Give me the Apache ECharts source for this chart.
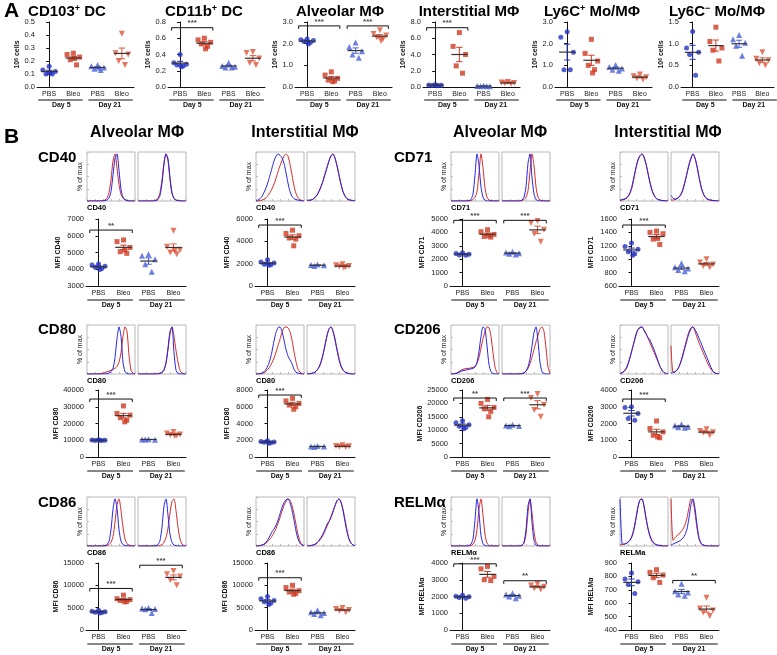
<!DOCTYPE html>
<html><head><meta charset="utf-8">
<script src="https://cdn.jsdelivr.net/npm/echarts@6/dist/echarts.min.js"></script>
<style>html,body{margin:0;padding:0;background:#fff}#c{width:777px;height:655px}</style>
</head><body><div id="c"></div>
<script>
// ---------- categories / labels ----------
const GROUPS = ['PBS', 'Bleo', 'PBS', 'Bleo'];
const DAYS = ['Day 5', 'Day 21'];

// ---------- Panel A (10^6 cells) : [PBS d5, Bleo d5, PBS d21, Bleo d21] ----------
const A_TITLES = ['{b|CD103}{s|+}{b| DC}', '{b|CD11b}{s|+}{b| DC}', '{b|Alveolar MΦ}', '{b|Interstitial MΦ}', '{b|Ly6C}{s|+}{b| Mo/MΦ}', '{b|Ly6C}{s|−}{b| Mo/MΦ}'];
const A_YMAX = [0.5, 0.8, 3.0, 8.0, 3.0, 1.5];
const A_YSTEP = [0.1, 0.2, 1.0, 2.0, 1.0, 0.5];
const CD103_DC = [[0.16,0.13,0.12,0.10,0.10,0.11],[0.26,0.25,0.23,0.21,0.17,0.22],[0.17,0.16,0.15,0.14,0.13,0.15],[0.41,0.26,0.25,0.20,0.17]];
const CD11B_DC = [[0.40,0.30,0.28,0.27,0.26,0.25],[0.60,0.58,0.55,0.53,0.50,0.47],[0.30,0.26,0.25,0.24,0.24],[0.43,0.42,0.35,0.30,0.27]];
const ALV_A = [[2.22,2.18,2.15,2.10,2.05,1.98],[0.70,0.55,0.40,0.32,0.28,0.25],[2.05,1.85,1.65,1.50,1.35],[2.62,2.45,2.38,2.30,2.22,2.12]];
const INT_A = [[0.30,0.25,0.22,0.20,0.18,0.15],[6.7,5.0,4.0,2.6,1.7],[0.15,0.12,0.10,0.08,0.10],[0.62,0.55,0.50,0.45,0.40]];
const LY6CP = [[2.55,2.30,1.60,0.80,0.80],[2.20,1.55,1.20,1.00,0.80,0.65],[1.02,0.92,0.85,0.80,0.75],[0.58,0.50,0.45,0.40,0.35]];
const LY6CM = [[1.28,0.90,0.80,0.75,0.27],[1.38,1.05,0.90,0.85,0.60],[1.20,1.10,1.02,0.95,0.72],[0.80,0.65,0.62,0.55,0.50]];
const A_DATA = [CD103_DC, CD11B_DC, ALV_A, INT_A, LY6CP, LY6CM];
// significance brackets: [group a, group b, y, stars]
const BR_CD103 = [];
const BR_CD11B = [[0,1,0.73,'***']];
const BR_ALV_A = [[0,1,2.82,'***'],[2,3,2.82,'***']];
const BR_INT_A = [[0,1,7.3,'***']];
const BR_LY6CP = [];
const BR_LY6CM = [];
const A_BR = [BR_CD103, BR_CD11B, BR_ALV_A, BR_INT_A, BR_LY6CP, BR_LY6CM];

// ---------- Panel B MFI values ----------
const ALV_CD40 = [[4320,4250,4180,4120,4050,3980],[5750,5650,5300,5050,4950,5150],[4900,4800,4600,4300,3850],[6300,5350,5150,5000,4900,5100]];
const ALV_CD80 = [[10300,10100,10000,9900,9800,10000],[30500,26000,25000,23500,22000,21000],[10600,10500,10300,10400],[15000,14000,13500,13200,12800,12500]];
const ALV_CD86 = [[4400,4200,4100,4000,3900,3800],[7800,7000,6800,6600,6400,6300],[4900,4800,4700,4650,3800],[13200,12500,12000,11200,10000]];
const INT_CD40 = [[2350,2150,2050,1950,1900,1850],[5000,4700,4500,4300,4200,3600],[1920,1880,1850,1800],[1950,1850,1800,1750,1700,1650]];
const INT_CD80 = [[1950,1850,1800,1750,1700,1650],[7000,6700,6400,6200,6000,5700],[1320,1260,1240,1200],[1400,1300,1270,1230,1180]];
const INT_CD86 = [[7500,7000,6600,6300,6000,5700],[10000,9500,8800,8500,8200,8000],[4400,4000,3800,3600,3300],[4900,4700,4500,4300,4000]];
const ALV_CD71 = [[2480,2420,2370,2320,2300],[4200,4050,3850,3700,3650,3750],[2550,2500,2450,2400,2350],[4850,4700,4200,3900,3300]];
const ALV_CD206 = [[13500,12800,12000,11500,11000,10500],[21500,20000,18500,18000,17000,15000],[12000,11800,11600,11500],[23500,22000,19500,17500,15000]];
const ALV_RELMA = [[2080,2020,1980,1940,1900],[3800,3650,3200,3000,2950],[2200,2120,2050,2000,1900],[2750,2650,2580,2500,2420]];
const INT_CD71 = [[1240,1190,1150,1110,1080,1060],[1420,1400,1380,1300,1220,1310],[940,880,860,840,820],[1000,950,920,900,880]];
const INT_CD206 = [[3000,2950,2600,2300,2200],[2150,1700,1500,1300,1150,1200],[1950,1880,1800,1780,1750],[1650,1550,1480,1450,1300]];
const INT_RELMA = [[825,780,760,740,672],[850,830,810,790,755],[745,690,680,665,655],[640,560,545,530,505]];

const BR_ALV_CD40 = [[0,1,6340,'**']];
const BR_ALV_CD80 = [[0,1,34600,'***']];
const BR_ALV_CD86 = [[0,1,9300,'***'],[2,3,14500,'***']];
const BR_INT_CD40 = [[0,1,5460,'***']];
const BR_INT_CD80 = [[0,1,7400,'***']];
const BR_INT_CD86 = [[0,1,11700,'***']];
const BR_ALV_CD71 = [[0,1,4900,'***'],[2,3,4900,'***']];
const BR_ALV_CD206 = [[0,1,22000,'**'],[2,3,22000,'***']];
const BR_ALV_RELMA = [[0,1,3950,'***'],[2,3,2940,'**']];
const BR_INT_CD71 = [[0,1,1510,'***']];
const BR_INT_CD206 = [[0,1,3460,'***']];
const BR_INT_RELMA = [[2,3,770,'**']];

// y-axis ranges: [min, max, step]
const Y_ALV_CD40 = [3000,7000,1000], Y_ALV_CD80 = [0,40000,10000], Y_ALV_CD86 = [0,15000,5000];
const Y_INT_CD40 = [0,6000,2000], Y_INT_CD80 = [0,8000,2000], Y_INT_CD86 = [0,15000,5000];
const Y_ALV_CD71 = [0,5000,1000], Y_ALV_CD206 = [0,25000,5000], Y_ALV_RELMA = [0,4000,1000];
const Y_INT_CD71 = [600,1600,200], Y_INT_CD206 = [0,4000,1000], Y_INT_RELMA = [400,900,100];

// ---------- Histograms (% of max): [Day5 Bleo(red), Day5 PBS(blue), Day21 Bleo(red), Day21 PBS(blue)] ----------
const H_ALV_CD40 = [
 [0,0,0,0,0,0,0,0,1,2,6,18,45,85,100,70,35,14,6,3,1,0,0,0,0],
 [0,0,0,0,0,0,0,0,0,1,2,6,20,55,90,100,65,25,8,3,1,0,0,0,0],
 [0,0,0,0,0,0,0,0,1,2,6,18,45,82,100,85,45,15,5,2,1,0,0,0,0],
 [0,0,0,0,0,0,0,0,0,1,3,12,38,78,100,90,50,18,6,2,1,0,0,0,0]];
const H_INT_CD40 = [
 [0,0,1,2,4,7,12,18,26,36,48,62,75,86,95,100,95,78,55,32,16,7,3,1,0],
 [1,2,5,10,18,28,40,55,70,85,95,100,97,92,80,60,38,20,10,5,3,2,1,0,0],
 [1,1,2,4,7,12,20,30,43,58,72,86,96,100,92,76,56,36,20,10,5,2,1,1,0],
 [1,2,2,4,8,13,21,31,42,56,70,85,95,100,90,74,54,35,20,11,5,3,2,1,0]];
const H_ALV_CD71 = [
 [0,0,0,0,0,0,0,0,0,0,1,3,8,20,60,100,70,28,8,2,1,0,0,0,0],
 [0,0,0,0,0,0,0,0,0,1,3,15,55,100,75,30,8,2,0,0,0,0,0,0,0],
 [0,0,0,0,0,0,0,0,0,0,1,3,8,22,62,100,75,30,8,2,1,0,0,0,0],
 [0,0,0,0,0,0,0,0,0,0,2,8,30,80,100,50,15,3,1,0,0,0,0,0,0]];
const H_INT_CD71 = [
 [1,2,3,5,9,16,28,48,70,86,96,100,94,80,60,40,24,13,6,3,2,1,0,0,0],
 [2,3,4,6,10,18,32,52,72,88,96,100,92,78,58,38,22,12,6,3,2,1,1,0,0],
 [2,2,3,5,9,15,26,42,60,78,92,100,90,72,50,30,16,8,4,2,1,1,0,0,0],
 [12,6,4,5,8,14,24,40,58,76,90,100,92,75,52,32,18,9,5,3,2,1,1,0,0]];
const H_ALV_CD80 = [
 [0,0,0,0,0,0,0,1,2,3,5,6,8,10,12,16,25,45,80,100,90,40,8,2,0],
 [0,0,0,0,0,0,0,0,0,0,1,2,5,12,35,75,100,80,25,5,1,0,0,0,0],
 [0,0,0,0,0,0,0,0,0,0,1,2,4,10,25,52,85,100,80,50,25,8,2,0,0],
 [0,0,0,0,0,0,0,0,0,0,0,1,3,8,22,55,90,100,45,8,1,0,0,0,0]];
const H_INT_CD80 = [
 [0,0,0,1,3,6,10,16,24,34,46,60,74,88,98,100,98,90,72,48,26,10,4,1,0],
 [0,0,1,2,5,10,18,30,48,70,88,98,100,90,72,52,38,30,22,10,4,2,1,0,0],
 [0,0,1,2,4,8,14,24,40,60,80,95,100,92,75,54,34,18,9,4,2,1,0,0,0],
 [0,0,1,2,4,8,15,26,42,62,82,96,100,90,72,50,30,16,8,4,2,1,0,0,0]];
const H_ALV_CD206 = [
 [0,0,1,2,5,8,10,11,12,12,13,14,16,22,35,55,75,90,100,98,80,45,15,3,0],
 [0,0,1,2,4,6,7,8,9,10,11,12,15,25,48,80,100,95,60,20,5,1,0,0,0],
 [0,0,0,0,0,0,0,0,0,0,1,3,6,12,22,36,52,68,82,95,100,90,55,15,1],
 [0,0,0,0,0,0,0,0,0,0,1,2,6,15,32,60,88,100,70,25,5,1,0,0,0]];
const H_INT_CD206 = [
 [1,2,5,10,20,34,50,66,82,94,99,100,94,86,76,66,56,46,36,26,16,8,3,1,0],
 [1,3,6,12,22,36,52,68,84,95,98,100,92,85,78,72,62,52,40,28,16,8,3,1,0],
 [60,4,5,9,16,28,44,60,76,90,98,100,90,78,66,56,46,36,26,17,10,5,2,1,0],
 [2,3,4,8,15,26,40,56,72,86,96,100,94,86,76,66,55,45,35,24,14,6,2,1,0]];
const H_ALV_CD86 = [
 [0,0,0,0,0,0,0,0,0,0,1,3,8,20,50,88,100,75,40,15,5,2,1,0,0],
 [0,0,0,0,0,0,0,0,0,1,3,10,35,78,100,80,35,10,3,1,0,0,0,0,0],
 [0,0,0,0,0,0,0,0,0,0,0,1,3,8,18,38,70,95,100,75,40,15,4,1,0],
 [0,0,0,0,0,0,0,0,0,1,3,12,40,85,100,65,25,8,2,1,0,0,0,0,0]];
const H_INT_CD86 = [
 [0,0,1,2,3,6,10,15,21,28,37,48,60,74,86,95,100,97,86,68,46,25,10,3,1],
 [0,0,1,2,4,8,14,22,30,36,44,55,68,82,92,98,100,92,76,55,32,15,6,2,1],
 [0,0,1,2,3,6,10,16,23,32,42,52,63,75,86,96,100,94,78,56,34,16,6,2,1],
 [0,0,1,2,4,7,12,18,26,35,46,52,60,72,85,96,100,92,75,52,30,14,6,2,1]];
const H_ALV_RELMA = [
 [0,0,0,0,0,0,0,0,0,0,1,4,12,35,78,100,65,25,6,1,0,0,0,0,0],
 [0,0,0,0,0,0,0,0,0,1,4,15,55,100,70,22,5,1,0,0,0,0,0,0,0],
 [0,0,0,0,0,0,0,0,0,0,1,6,25,70,100,70,30,8,2,0,0,0,0,0,0],
 [0,0,0,0,0,0,0,0,0,0,2,8,35,85,100,50,12,2,0,0,0,0,0,0,0]];
const H_INT_RELMA = [
 [3,3,4,5,8,13,22,38,60,84,98,100,84,58,36,20,10,5,3,1,1,0,0,0,0],
 [100,5,4,5,8,12,20,35,58,82,98,100,85,60,38,22,12,6,3,2,1,0,0,0,0],
 [100,12,18,22,26,30,36,45,60,82,100,95,70,38,15,5,2,1,0,0,0,0,0,0,0],
 [2,4,6,8,10,13,17,24,36,60,88,100,80,45,18,6,2,1,0,0,0,0,0,0,0]];

const COL_HEADERS = ['Alveolar MΦ', 'Interstitial MΦ', 'Alveolar MΦ', 'Interstitial MΦ'];
const ROW_LABELS_L = ['CD40', 'CD80', 'CD86'];
const ROW_LABELS_R = ['CD71', 'CD206', 'RELMα'];

// ---------- build ----------
const FONT = '"Liberation Sans", Arial, Helvetica, sans-serif';
const COLORS = ['#2633c4', '#cf3a22', '#4a62d8', '#e0553a'];
const SYMBOLS = ['circle', 'rect', 'triangle', 'triangle'];
const SYM_ROT = [0, 0, 0, 180];
const SYM_SIZE = [5, 5, 6, 6];
const JIT = [0, -0.26, 0.26, -0.13, 0.13, 0.05];
const HRED = '#d42a2a', HBLUE = '#2424e6';

const grid = [], xAxis = [], yAxis = [], series = [], graphic = [];

function meanSem(arr) {
  const n = arr.length, m = arr.reduce((a, b) => a + b, 0) / n;
  const sd = Math.sqrt(arr.reduce((a, b) => a + (b - m) * (b - m), 0) / (n - 1));
  return [m, sd / Math.sqrt(n)];
}

function dotPlot(o) {
  const gi = grid.length;
  grid.push({ left: o.left, top: o.top, width: o.width, height: o.height });
  xAxis.push({
    gridIndex: gi, type: 'value', min: -0.5, max: 3.5, interval: 0.5,
    axisLine: { show: true, onZero: false, lineStyle: { color: '#111', width: 1 } },
    axisTick: { show: false }, splitLine: { show: false },
    axisLabel: { fontSize: 7, color: '#222', margin: 4, fontFamily: FONT,
      formatter: v => { const k = Math.round(v * 2); return (k >= 0 && k <= 6 && k % 2 === 0) ? GROUPS[k / 2] : ''; } }
  });
  yAxis.push({
    gridIndex: gi, type: 'value', min: o.min, max: o.max, interval: o.step,
    axisLine: { show: true, lineStyle: { color: '#111', width: 1 } },
    axisTick: { show: true, length: 3, lineStyle: { color: '#111' } },
    splitLine: { show: false },
    axisLabel: { fontSize: 7.5, color: '#222', margin: 2, fontFamily: FONT, formatter: o.fmt },
    name: o.name, nameLocation: 'middle', nameGap: o.nameGap,
    nameTextStyle: { fontSize: 7, fontWeight: 'bold', color: '#111', fontFamily: FONT,
      rich: { n: { fontSize: 7, fontWeight: 'bold', fontFamily: FONT }, s: { fontSize: 5, fontWeight: 'bold', fontFamily: FONT, verticalAlign: 'top' } } }
  });
  o.data.forEach((arr, g) => {
    series.push({
      type: 'scatter', xAxisIndex: gi, yAxisIndex: gi, symbol: SYMBOLS[g], symbolRotate: SYM_ROT[g],
      symbolSize: SYM_SIZE[g], itemStyle: { color: COLORS[g] }, z: 2, silent: true,
      data: arr.map((v, i) => [g + JIT[i % JIT.length], v])
    });
  });
  series.push({
    type: 'custom', xAxisIndex: gi, yAxisIndex: gi, z: 4, silent: true,
    data: o.data.map((arr, g) => { const ms = meanSem(arr); return [g, ms[0], ms[1]]; }),
    renderItem: (params, api) => {
      const g = api.value(0), m = api.value(1), s = api.value(2);
      const c = api.coord([g, m]), t = api.coord([g, m + s]), b = api.coord([g, m - s]);
      const hm = api.size([0.33, 0])[0], hc = api.size([0.13, 0])[0];
      const col = COLORS[g];
      return { type: 'group', children: [
        { type: 'line', shape: { x1: c[0], y1: t[1], x2: c[0], y2: b[1] }, style: { stroke: col, lineWidth: 1 } },
        { type: 'line', shape: { x1: c[0] - hc, y1: t[1], x2: c[0] + hc, y2: t[1] }, style: { stroke: col, lineWidth: 1 } },
        { type: 'line', shape: { x1: c[0] - hc, y1: b[1], x2: c[0] + hc, y2: b[1] }, style: { stroke: col, lineWidth: 1 } },
        { type: 'line', shape: { x1: c[0] - hm, y1: c[1], x2: c[0] + hm, y2: c[1] }, style: { stroke: '#333', lineWidth: 1.2 } }
      ] };
    }
  });
  const d = (o.max - o.min) * 0.045;
  o.br.forEach(br => {
    const a = br[0] - 0.35, bb = br[1] + 0.35, y = br[2];
    series.push({
      type: 'line', xAxisIndex: gi, yAxisIndex: gi, symbol: 'none', silent: true, z: 3,
      lineStyle: { color: '#111', width: 1 }, data: [[a, y - d], [a, y], [bb, y], [bb, y - d]]
    });
    series.push({
      type: 'scatter', xAxisIndex: gi, yAxisIndex: gi, symbolSize: 1, silent: true, z: 3, clip: false,
      itemStyle: { color: 'rgba(0,0,0,0)' },
      label: { show: true, position: 'top', distance: 0, formatter: br[3], fontSize: 8, fontWeight: 'bold', color: '#111', fontFamily: FONT },
      data: [[(br[0] + br[1]) / 2, y]]
    });
  });
  // day underline & label
  const px = v => o.left + (v + 0.5) / 4 * o.width;
  const yb = o.top + o.height;
  [[-0.45, 1.38, 0.5], [1.62, 3.45, 2.5]].forEach((seg, k) => {
    graphic.push({ type: 'line', silent: true, shape: { x1: px(seg[0]), y1: yb + o.ulGap, x2: px(seg[1]), y2: yb + o.ulGap }, style: { stroke: '#111', lineWidth: 1.2 } });
    graphic.push({ type: 'text', silent: true, x: px(seg[2]), y: yb + o.ulGap + 5.5,
      style: { text: DAYS[k], textAlign: 'center', textVerticalAlign: 'middle', font: 'bold 7px ' + FONT, fill: '#111' } });
  });
}

function histBox(left, top, red, blue, leftAxisName) {
  const gi = grid.length;
  grid.push({ left: left, top: top, width: 48, height: 49, show: true, borderColor: '#b8b8b8', borderWidth: 1, backgroundColor: 'rgba(0,0,0,0)' });
  xAxis.push({ gridIndex: gi, type: 'value', min: 0, max: 24, interval: 4,
    axisLine: { show: false }, axisTick: { show: true, inside: true, length: 2, lineStyle: { color: '#bbb' } },
    axisLabel: { show: false }, splitLine: { show: false } });
  yAxis.push({ gridIndex: gi, type: 'value', min: 0, max: 104, interval: 26,
    axisLine: { show: false }, axisTick: { show: !!leftAxisName, inside: true, length: 2, lineStyle: { color: '#bbb' } },
    axisLabel: { show: false }, splitLine: { show: false },
    name: leftAxisName || '', nameLocation: 'middle', nameGap: 3,
    nameTextStyle: { fontSize: 7, color: '#222', fontFamily: FONT } });
  [[red, HRED], [blue, HBLUE]].forEach(p => {
    series.push({ type: 'line', xAxisIndex: gi, yAxisIndex: gi, symbol: 'none', silent: true, smooth: 0.25,
      lineStyle: { color: p[1], width: 1 }, itemStyle: { color: p[1] }, z: 2,
      data: p[0].map((v, i) => [i, v]) });
  });
}

// Panel A layout
const A_X = [37, 168, 295, 423, 555, 681];
const A_TITLE_X = [67, 204, 340, 469, 592, 717];
A_DATA.forEach((data, i) => {
  dotPlot({ left: A_X[i], top: 22, width: 97, height: 65, data: data, min: 0, max: A_YMAX[i], step: A_YSTEP[i],
    fmt: v => v.toFixed(1), name: '{n|10}{s|6}{n| cells}', nameGap: 13, br: A_BR[i], ulGap: 13 });
  graphic.push({ type: 'text', silent: true, x: A_TITLE_X[i], y: 12,
    style: { text: A_TITLES[i], textAlign: 'center', textVerticalAlign: 'middle', fill: '#000',
      rich: { b: { fontSize: 15, fontWeight: 'bold', fontFamily: FONT, fill: '#000' },
              s: { fontSize: 9, fontWeight: 'bold', fontFamily: FONT, fill: '#000', verticalAlign: 'top' } } } });
});

// Panel B layout
const B_COLX = [86, 255, 450, 619];
const B_SC_TOP = [219, 390, 563];
const B_H_TOP = [152, 325, 497];
const B_PANELS = [
  [ALV_CD40, Y_ALV_CD40, BR_ALV_CD40, H_ALV_CD40, 'MFI CD40', 'CD40'],
  [ALV_CD80, Y_ALV_CD80, BR_ALV_CD80, H_ALV_CD80, 'MFI CD80', 'CD80'],
  [ALV_CD86, Y_ALV_CD86, BR_ALV_CD86, H_ALV_CD86, 'MFI CD86', 'CD86'],
  [INT_CD40, Y_INT_CD40, BR_INT_CD40, H_INT_CD40, 'MFI CD40', 'CD40'],
  [INT_CD80, Y_INT_CD80, BR_INT_CD80, H_INT_CD80, 'MFI CD80', 'CD80'],
  [INT_CD86, Y_INT_CD86, BR_INT_CD86, H_INT_CD86, 'MFI CD86', 'CD86'],
  [ALV_CD71, Y_ALV_CD71, BR_ALV_CD71, H_ALV_CD71, 'MFI CD71', 'CD71'],
  [ALV_CD206, Y_ALV_CD206, BR_ALV_CD206, H_ALV_CD206, 'MFI CD206', 'CD206'],
  [ALV_RELMA, Y_ALV_RELMA, BR_ALV_RELMA, H_ALV_RELMA, 'MFI RELMα', 'RELMα'],
  [INT_CD71, Y_INT_CD71, BR_INT_CD71, H_INT_CD71, 'MFI CD71', 'CD71'],
  [INT_CD206, Y_INT_CD206, BR_INT_CD206, H_INT_CD206, 'MFI CD206', 'CD206'],
  [INT_RELMA, Y_INT_RELMA, BR_INT_RELMA, H_INT_RELMA, 'MFI RELMα', 'RELMa']
];
B_PANELS.forEach((p, idx) => {
  const col = Math.floor(idx / 3), row = idx % 3;
  const x = B_COLX[col];
  histBox(x + 1, B_H_TOP[row], p[3][0], p[3][1], '% of max');
  histBox(x + 52, B_H_TOP[row], p[3][2], p[3][3], null);
  graphic.push({ type: 'text', silent: true, x: x + 1, y: B_H_TOP[row] + 56,
    style: { text: p[5], textAlign: 'left', textVerticalAlign: 'middle', font: 'bold 7.5px ' + FONT, fill: '#000' } });
  dotPlot({ left: x, top: B_SC_TOP[row], width: 100, height: 67, data: p[0], min: p[1][0], max: p[1][1], step: p[1][2],
    fmt: v => String(v), name: p[4], nameGap: 24, br: p[2], ulGap: 14 });
});

// headers, row labels, panel letters
const HEADER_X = [137, 305, 500, 668];
COL_HEADERS.forEach((h, i) => graphic.push({ type: 'text', silent: true, x: HEADER_X[i], y: 133,
  style: { text: h, textAlign: 'center', textVerticalAlign: 'middle', font: 'bold 16px ' + FONT, fill: '#000' } }));
const ROW_Y = [158, 330, 503];
ROW_LABELS_L.forEach((t, i) => graphic.push({ type: 'text', silent: true, x: 38, y: ROW_Y[i],
  style: { text: t, textAlign: 'left', textVerticalAlign: 'middle', font: 'bold 15px ' + FONT, fill: '#000' } }));
ROW_LABELS_R.forEach((t, i) => graphic.push({ type: 'text', silent: true, x: 394, y: ROW_Y[i],
  style: { text: t, textAlign: 'left', textVerticalAlign: 'middle', font: 'bold 15px ' + FONT, fill: '#000' } }));
graphic.push({ type: 'text', silent: true, x: 4, y: 11, style: { text: 'A', textAlign: 'left', textVerticalAlign: 'middle', font: 'bold 21px ' + FONT, fill: '#000' } });
graphic.push({ type: 'text', silent: true, x: 4, y: 137, style: { text: 'B', textAlign: 'left', textVerticalAlign: 'middle', font: 'bold 21px ' + FONT, fill: '#000' } });

const chart = echarts.init(document.getElementById('c'));
chart.setOption({
  animation: false, backgroundColor: '#fff',
  textStyle: { fontFamily: FONT },
  grid: grid, xAxis: xAxis, yAxis: yAxis, series: series, graphic: { elements: graphic }
});
</script></body></html>
